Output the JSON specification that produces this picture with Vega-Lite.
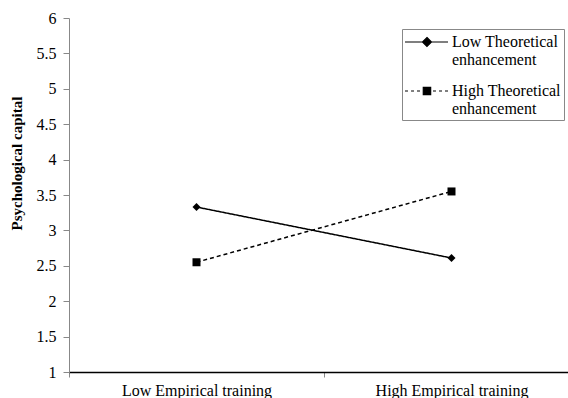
{
  "$schema": "https://vega.github.io/schema/vega-lite/v6.json",
  "width": 499,
  "height": 354,
  "autosize": {"type": "none"},
  "padding": {"left": 69, "top": 18, "right": 0, "bottom": 26},
  "background": "white",
  "config": {
    "view": {"stroke": null},
    "font": "Liberation Serif",
    "axis": {"labelFont": "Liberation Serif", "titleFont": "Liberation Serif", "labelColor": "black", "titleColor": "black"},
    "legend": {"labelFont": "Liberation Serif", "titleFont": "Liberation Serif"}
  },
  "data": {
    "values": [
      {"training": "Low Empirical training", "series": "Low Theoretical enhancement", "value": 3.33},
      {"training": "High Empirical training", "series": "Low Theoretical enhancement", "value": 2.61},
      {"training": "Low Empirical training", "series": "High Theoretical enhancement", "value": 2.55},
      {"training": "High Empirical training", "series": "High Theoretical enhancement", "value": 3.55}
    ]
  },
  "encoding": {
    "x": {
      "field": "training",
      "type": "nominal",
      "sort": ["Low Empirical training", "High Empirical training"],
      "scale": {"range": [0, 510], "paddingInner": 0, "paddingOuter": 0},
      "axis": {
        "title": null,
        "labelAngle": 0,
        "labelFontSize": 16,
        "labelPadding": 5,
        "tickBand": "extent",
        "tickSize": 5,
        "tickColor": "#888",
        "domainColor": "black",
        "domainWidth": 1.5
      }
    },
    "y": {
      "field": "value",
      "type": "quantitative",
      "scale": {"domain": [1, 6], "nice": false, "zero": false},
      "axis": {
        "title": "Psychological capital",
        "titleFontWeight": "bold",
        "titleFontSize": 15,
        "titleAngle": -90,
        "titleX": -53,
        "titleY": 145,
        "titleAlign": "center",
        "titleBaseline": "middle",
        "values": [1, 1.5, 2, 2.5, 3, 3.5, 4, 4.5, 5, 5.5, 6],
        "format": ".1~f",
        "labelFontSize": 16,
        "labelPadding": 7,
        "tickSize": 6,
        "tickColor": "#888",
        "domainColor": "#888",
        "grid": false
      }
    }
  },
  "resolve": {"scale": {"shape": "independent"}},
  "layer": [
    {
      "mark": {"type": "line", "color": "black", "strokeWidth": 1.5},
      "encoding": {
        "strokeDash": {
          "field": "series",
          "type": "nominal",
          "scale": {"domain": ["Low Theoretical enhancement", "High Theoretical enhancement"], "range": [[1, 0], [4, 3]]},
          "legend": null
        }
      }
    },
    {
      "mark": {"type": "point", "filled": true, "color": "black", "size": 64, "opacity": 1},
      "encoding": {
        "shape": {
          "field": "series",
          "type": "nominal",
          "scale": {"domain": ["Low Theoretical enhancement", "High Theoretical enhancement"], "range": ["diamond", "square"]},
          "legend": null
        }
      }
    },
    {
      "mark": {"type": "point", "filled": true, "color": "black", "stroke": "black", "strokeWidth": 1.2, "size": 0, "opacity": 1},
      "encoding": {
        "shape": {
          "field": "series",
          "type": "nominal",
          "scale": {
            "domain": ["Low Theoretical enhancement", "High Theoretical enhancement"],
            "range": [
              "M-1.11,0H3.67M1.33,-0.5L1.83,0L1.33,0.5L0.83,0Z",
              "M-1.11,0H-0.78M-0.44,0H-0.11M0.22,0H0.56M2,0H2.33M2.67,0H3M3.33,0H3.67M0.92,-0.41H1.74V0.41H0.92Z"
            ]
          },
          "legend": {
            "title": null,
            "orient": "none",
            "legendX": 333,
            "legendY": 11,
            "direction": "vertical",
            "padding": 3,
            "rowPadding": 13,
            "strokeColor": "#888",
            "fillColor": "white",
            "symbolSize": 324,
            "symbolStrokeWidth": 1.2,
            "labelFontSize": 16,
            "labelLimit": 300,
            "labelOffset": 27,
            "labelExpr": "datum.label === 'Low Theoretical enhancement' ? ['Low Theoretical', 'enhancement'] : ['High Theoretical', 'enhancement']"
          }
        }
      }
    }
  ]
}
